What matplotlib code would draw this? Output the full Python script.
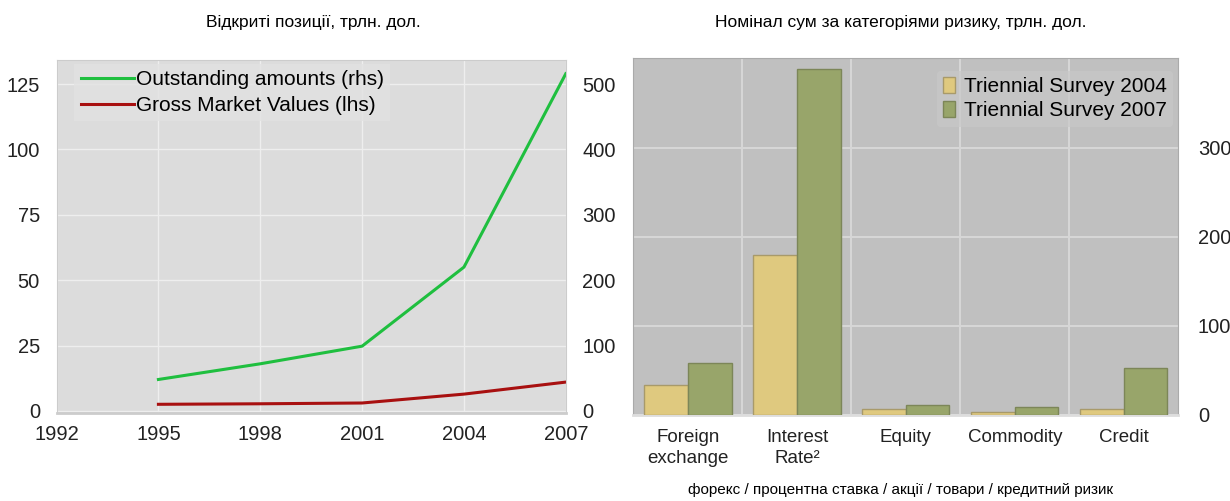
import matplotlib.pyplot as plt
import numpy as np

plt.rcParams['font.family'] = ['Liberation Sans', 'DejaVu Sans']

# left panel data
years = [1995, 1998, 2001, 2004, 2007]
outstanding = [48, 72, 99, 220, 516]      # rhs, trillion USD
gross_market = [2.5, 2.7, 3.0, 6.4, 11.0]  # lhs, trillion USD
year_ticks = [1992, 1995, 1998, 2001, 2004, 2007]

# right panel data
categories = ['Foreign\nexchange', 'Interest\nRate²', 'Equity', 'Commodity', 'Credit']
survey_2004 = [34, 180, 6, 3, 6]
survey_2007 = [58, 389, 11, 9, 53]

fig = plt.figure(figsize=(12.3, 5.01), dpi=100)

# ---- left chart
ax = fig.add_axes([0.046, 0.176, 0.414, 0.704])
ax.set_facecolor('#dcdcdc')
ax.set_xlim(1992, 2007)
ax.set_ylim(-0.76, 134.2)
ax.set_xticks(year_ticks)
ax.set_yticks([0, 25, 50, 75, 100, 125])
ax.grid(True, color='#eeeeee', linewidth=1)
ax.set_axisbelow(True)
for s in ax.spines.values():
    s.set_color('#cccccc')
ax.spines['bottom'].set_linewidth(2)
ax.tick_params(length=0, labelsize=14.5, colors='#222222')
ax.tick_params(axis='x', pad=9)
ax.tick_params(axis='y', pad=12)

ax2 = ax.twinx()
ax2.set_ylim(-3.04, 536.8)
ax2.set_yticks([0, 100, 200, 300, 400, 500])
ax2.grid(False)
for s in ax2.spines.values():
    s.set_visible(False)
ax2.tick_params(length=0, labelsize=14.5, colors='#222222', pad=12)

# outstanding is rhs; rhs = 4 x lhs, so draw it on ax in lhs units
l1, = ax.plot(years, np.array(outstanding) / 4.0, color='#1fbf3f', linewidth=2.2)
l2, = ax.plot(years, gross_market, color='#a81010', linewidth=2.2)
leg = ax.legend([l1, l2], ['Outstanding amounts (rhs)', 'Gross Market Values (lhs)'],
                loc='upper left', bbox_to_anchor=(0.035, 0.99), borderaxespad=0,
                fontsize=15, frameon=True, handlelength=2.55, handletextpad=0.1,
                borderpad=0.3, labelspacing=0.35)
leg.get_frame().set_facecolor('#e2e2e2')
leg.get_frame().set_edgecolor('none')
leg.get_frame().set_alpha(0.8)
leg.get_frame().set_boxstyle('square', pad=0)

# ---- right chart
bx = fig.add_axes([0.515, 0.172, 0.443, 0.712])
bx.set_facecolor('#c0c0c0')
x = np.arange(len(categories))
w = 0.4
bx.bar(x - w / 2, survey_2004, w, color='#dfc97f', edgecolor='#a89a6a', linewidth=1,
       label='Triennial Survey 2004', zorder=3)
bx.bar(x + w / 2, survey_2007, w, color='#98a56a', edgecolor='#7c8658', linewidth=1,
       label='Triennial Survey 2007', zorder=3)
bx.set_xlim(-0.5, len(categories) - 0.5)
bx.set_ylim(0, 401)
bx.set_xticks(x)
bx.set_xticklabels(categories, linespacing=1.3)
bx.set_xticks(x[:-1] + 0.5, minor=True)
bx.yaxis.tick_right()
bx.set_yticks([0, 100, 200, 300])
bx.grid(True, axis='y', color='#d6d6d6', linewidth=1.5)
bx.grid(True, axis='x', which='minor', color='#d6d6d6', linewidth=1.5)
bx.set_axisbelow(True)
for s in bx.spines.values():
    s.set_color('#aaaaaa')
bx.spines['bottom'].set_color('#dddddd')
bx.spines['bottom'].set_linewidth(2)
bx.tick_params(which='both', length=0)
bx.tick_params(axis='x', labelsize=13.5, colors='#222222', pad=10)
bx.tick_params(axis='y', labelsize=14.5, colors='#222222', pad=14)
bleg = bx.legend(loc='upper right', bbox_to_anchor=(0.99, 0.965), borderaxespad=0,
                 fontsize=15, frameon=True, handlelength=0.6, handleheight=0.8,
                 handletextpad=0.4, borderpad=0.3, labelspacing=0.25)
bleg.get_frame().set_facecolor('#c8c8c8')
bleg.get_frame().set_edgecolor('none')
bleg.get_frame().set_alpha(0.7)

# titles and footnote
fig.text(0.255, 0.955, 'Відкриті позиції, трлн. дол.', ha='center', va='center', fontsize=12.5)
fig.text(0.732, 0.955, 'Номінал сум за категоріями ризику, трлн. дол.', ha='center',
         va='center', fontsize=12.5)
fig.text(0.732, 0.022, 'форекс / процентна ставка / акції / товари / кредитний ризик',
         ha='center', va='center', fontsize=11)

fig.savefig('out.png', dpi=100)
